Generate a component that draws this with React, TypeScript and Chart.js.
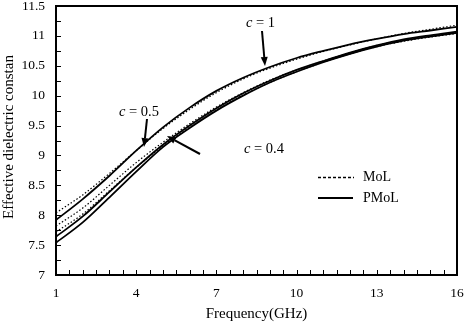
import React, { useEffect, useRef } from "react";
import { Chart, registerables } from "chart.js";

Chart.register(...registerables);

// Frequency samples (GHz)
const FREQ = [1, 2, 3, 4, 5, 6, 7, 8, 9, 10, 11, 12, 13, 14, 15, 16];

// PMoL (solid) effective dielectric constant
const PMOL_C1 = [7.92, 8.27, 8.66, 9.08, 9.47, 9.8, 10.08, 10.3, 10.48, 10.63, 10.75, 10.86, 10.95, 11.03, 11.09, 11.15];
const PMOL_C05 = [7.64, 7.98, 8.39, 8.8, 9.18, 9.5, 9.79, 10.04, 10.25, 10.43, 10.58, 10.72, 10.84, 10.94, 11.01, 11.07];
const PMOL_C04 = [7.54, 7.88, 8.3, 8.73, 9.14, 9.46, 9.75, 10.0, 10.22, 10.4, 10.56, 10.7, 10.82, 10.92, 10.99, 11.05];

// MoL (dashed) effective dielectric constant
const MOL_C1 = [8.04, 8.34, 8.7, 9.08, 9.45, 9.77, 10.05, 10.28, 10.46, 10.61, 10.74, 10.85, 10.95, 11.04, 11.11, 11.18];
const MOL_C05 = [7.82, 8.12, 8.5, 8.88, 9.22, 9.53, 9.81, 10.05, 10.26, 10.43, 10.58, 10.72, 10.84, 10.93, 11.0, 11.06];
const MOL_C04 = [7.72, 8.02, 8.41, 8.8, 9.16, 9.47, 9.76, 10.01, 10.22, 10.4, 10.56, 10.7, 10.82, 10.91, 10.98, 11.04];

const X_TICKS = [1, 4, 7, 10, 13, 16];
const Y_TICKS = [7, 7.5, 8, 8.5, 9, 9.5, 10, 10.5, 11, 11.5];

const X_TITLE = "Frequency(GHz)";
const Y_TITLE = "Effective dielectric constan";
const LEGEND = ["MoL", "PMoL"];

const SERIF = '"Liberation Serif", "Times New Roman", serif';

const toPoints = (ys: number[]) => FREQ.map((x, i) => ({ x, y: ys[i] }));

function arrow(ctx: CanvasRenderingContext2D, x0: number, y0: number, x1: number, y1: number) {
  const ang = Math.atan2(y1 - y0, x1 - x0);
  const len = 9;
  const half = 3.5;
  const bx = x1 - len * Math.cos(ang);
  const by = y1 - len * Math.sin(ang);
  ctx.beginPath();
  ctx.moveTo(x0, y0);
  ctx.lineTo(bx, by);
  ctx.lineWidth = 2;
  ctx.stroke();
  ctx.beginPath();
  ctx.moveTo(x1, y1);
  ctx.lineTo(bx - half * Math.sin(ang), by + half * Math.cos(ang));
  ctx.lineTo(bx + half * Math.sin(ang), by - half * Math.cos(ang));
  ctx.closePath();
  ctx.fill();
}

function cLabel(ctx: CanvasRenderingContext2D, x: number, y: number, value: string) {
  ctx.textAlign = "left";
  ctx.textBaseline = "middle";
  ctx.font = `italic 14.5px ${SERIF}`;
  ctx.fillText("c", x, y);
  const w = ctx.measureText("c ").width;
  ctx.font = `14.5px ${SERIF}`;
  ctx.fillText("= " + value, x + w, y);
}

const decorations = {
  id: "decorations",
  afterDatasetsDraw(chart: any) {
    const { ctx, chartArea, scales } = chart;
    const { left, right, top, bottom } = chartArea;
    const xs = scales.x;
    const ys = scales.y;
    ctx.save();
    ctx.strokeStyle = "#000";
    ctx.fillStyle = "#000";

    // inward tick marks on the bottom and left axes
    ctx.lineWidth = 1;
    ctx.beginPath();
    for (let v = 1; v <= 16.001; v += 0.5) {
      const px = Math.round(xs.getPixelForValue(v)) + 0.5;
      ctx.moveTo(px, bottom);
      ctx.lineTo(px, bottom - 5);
    }
    for (let v = 7; v <= 11.501; v += 0.25) {
      const py = Math.round(ys.getPixelForValue(v)) + 0.5;
      ctx.moveTo(left, py);
      ctx.lineTo(left + 5, py);
    }
    ctx.stroke();

    // frame
    ctx.lineWidth = 2;
    ctx.strokeRect(left, top, right - left, bottom - top);

    // tick labels
    ctx.font = `13.5px ${SERIF}`;
    ctx.textAlign = "center";
    ctx.textBaseline = "middle";
    X_TICKS.forEach((v) => ctx.fillText(String(v), xs.getPixelForValue(v), 293));
    ctx.textAlign = "right";
    Y_TICKS.forEach((v) => ctx.fillText(String(v), 45, ys.getPixelForValue(v)));

    // axis titles
    ctx.font = `15px ${SERIF}`;
    ctx.textAlign = "center";
    ctx.fillText(X_TITLE, (left + right) / 2, 314);
    ctx.save();
    ctx.translate(9, 137);
    ctx.rotate(-Math.PI / 2);
    ctx.fillText(Y_TITLE, 0, 0);
    ctx.restore();

    // annotations
    cLabel(ctx, 246, 23, "1");
    arrow(ctx, 262, 31, 265, 66);
    cLabel(ctx, 119, 112, "0.5");
    arrow(ctx, 147, 119, 144, 147);
    cLabel(ctx, 244, 149, "0.4");
    arrow(ctx, 200, 154, 167, 136);

    // legend
    ctx.lineWidth = 1.5;
    ctx.setLineDash([3, 2]);
    ctx.beginPath();
    ctx.moveTo(318, 177.5);
    ctx.lineTo(354, 177.5);
    ctx.stroke();
    ctx.setLineDash([]);
    ctx.lineWidth = 2;
    ctx.beginPath();
    ctx.moveTo(318, 198);
    ctx.lineTo(353, 198);
    ctx.stroke();
    ctx.font = `14px ${SERIF}`;
    ctx.textAlign = "left";
    ctx.fillText(LEGEND[0], 363, 177);
    ctx.fillText(LEGEND[1], 363, 198);

    ctx.restore();
  },
};

export default function App() {
  const ref = useRef<HTMLCanvasElement>(null);

  useEffect(() => {
    if (!ref.current) return;
    const solid = (ys: number[]) => ({
      data: toPoints(ys),
      borderColor: "#000",
      borderWidth: 1.8,
      pointRadius: 0,
      cubicInterpolationMode: "monotone" as const,
      fill: false,
    });
    const dashed = (ys: number[]) => ({
      data: toPoints(ys),
      borderColor: "#000",
      borderWidth: 1.2,
      borderDash: [1.5, 2],
      pointRadius: 0,
      cubicInterpolationMode: "monotone" as const,
      fill: false,
    });
    const chart = new Chart(ref.current, {
      type: "line",
      data: {
        datasets: [
          { label: "MoL c=1", ...dashed(MOL_C1) },
          { label: "MoL c=0.5", ...dashed(MOL_C05) },
          { label: "MoL c=0.4", ...dashed(MOL_C04) },
          { label: "PMoL c=1", ...solid(PMOL_C1) },
          { label: "PMoL c=0.5", ...solid(PMOL_C05) },
          { label: "PMoL c=0.4", ...solid(PMOL_C04) },
        ],
      },
      options: {
        responsive: false,
        animation: false,
        layout: { padding: { left: 56, right: 9, top: 6, bottom: 51 } },
        plugins: { legend: { display: false }, tooltip: { enabled: false } },
        scales: {
          x: { type: "linear", min: 1, max: 16, display: false },
          y: { type: "linear", min: 7, max: 11.5, display: false },
        },
      },
      plugins: [decorations],
    });
    return () => chart.destroy();
  }, []);

  return (
    <div style={{ position: "absolute", left: 0, top: 0, width: 466, height: 326, background: "#fff" }}>
      <canvas ref={ref} width={466} height={326} />
    </div>
  );
}
